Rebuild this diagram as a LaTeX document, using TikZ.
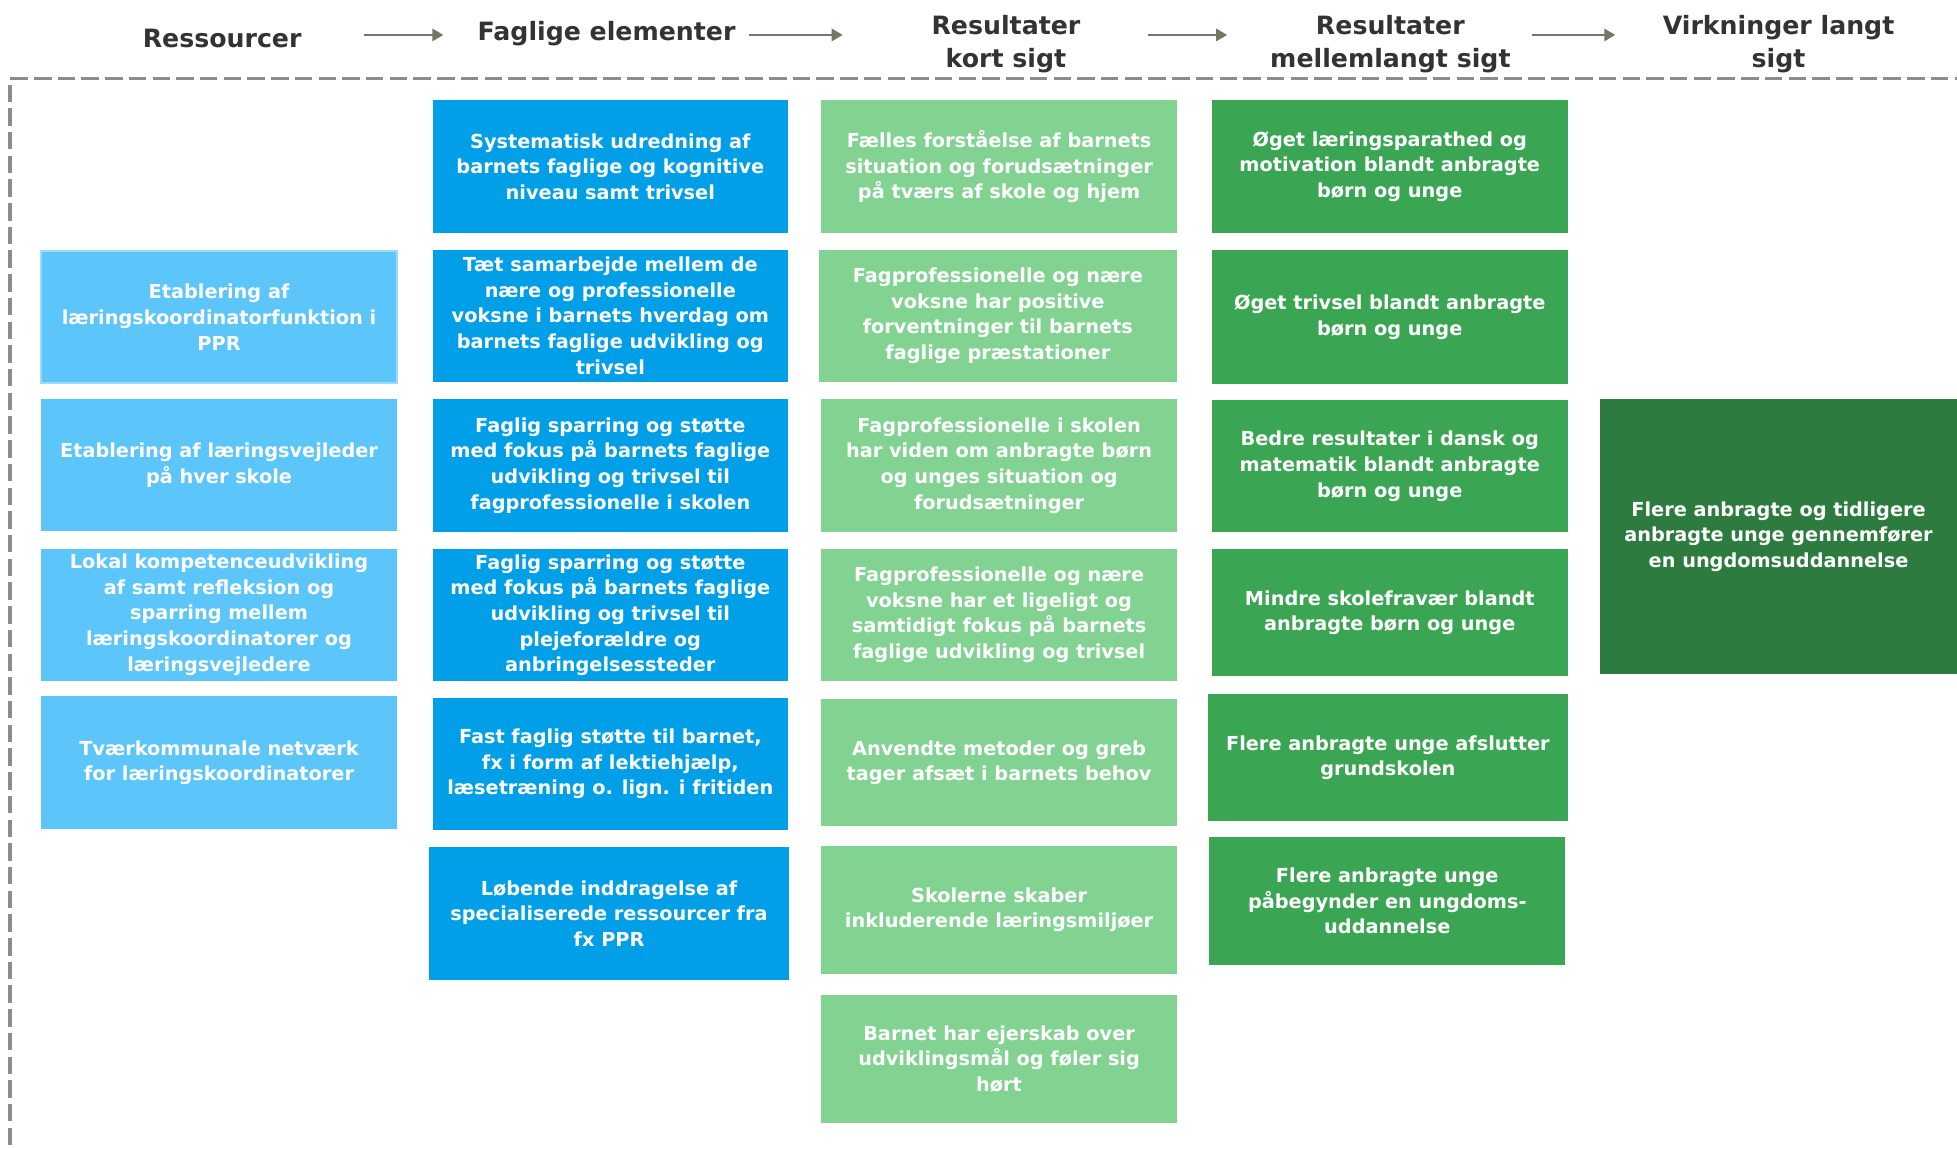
\documentclass[tikz,border=0pt]{standalone}
\usepackage{fontspec}
\setmainfont{DejaVu Sans}
\usetikzlibrary{arrows.meta}
\definecolor{resblue}{RGB}{92,197,250}
\definecolor{resline}{RGB}{160,218,250}
\definecolor{fagblue}{RGB}{0,159,232}
\definecolor{kortgreen}{RGB}{130,210,146}
\definecolor{mellemgreen}{RGB}{58,166,83}
\definecolor{langgreen}{RGB}{45,123,62}
\definecolor{headgray}{RGB}{51,51,51}
\definecolor{arrowgray}{RGB}{118,118,104}
\definecolor{framegray}{RGB}{140,140,140}
\begin{document}
\begin{tikzpicture}[x=0.02cm,y=-0.02cm]
		\tikzstyle{box}=[text=white,font=\fontsize{8.8}{11.7}\selectfont\bfseries,align=center,inner sep=0pt,minimum width=5.7cm,minimum height=2.12cm]
		\tikzstyle{res}=[box,fill=resblue]
		\tikzstyle{fag}=[box,fill=fagblue]
		\tikzstyle{kort}=[box,fill=kortgreen]
		\tikzstyle{mellem}=[box,fill=mellemgreen]
		\tikzstyle{head}=[text=headgray,font=\fontsize{11.5}{14.8}\selectfont\bfseries,align=center,inner sep=0pt,minimum width=4.4cm]
		\tikzstyle{arr}=[draw=arrowgray,line width=0.75pt,-{Triangle[length=5pt,width=5.7pt]},shorten <=0.07cm,shorten >=0.41cm]
		\useasboundingbox (0,0) rectangle (1568,920);
		\draw[framegray,line width=1.6pt,dash pattern=on 0.28cm off 0.1cm] (1580,63) -- (8,63) -- (8,930);
		\node[head] (h_1) at (178,31) {Ressourcer};
		\node[head] (h_2) at (486,27) {Faglige elementer};
		\node[head] (h_3) at (806,35.5) {Resultater\\kort sigt};
		\node[head] (h_4) at (1114,35.5) {Resultater\\mellemlangt sigt};
		\node[head] (h_5) at (1425,35.5) {Virkninger langt\\sigt};
		\coordinate (a_y) at (0,28);
		\draw[arr] (h_1.east |- a_y) -- (h_2.west |- a_y);
		\draw[arr] (h_2.east |- a_y) -- (h_3.west |- a_y);
		\draw[arr] (h_3.east |- a_y) -- (h_4.west |- a_y);
		\draw[arr] (h_4.east |- a_y) -- (h_5.west |- a_y);
		\node[res,draw=resline,line width=1pt] (r_1) at (175.5,254) {Etablering af\\læringskoordinatorfunktion i\\PPR};
		\node[res] (r_2) at (175.5,372.5) {Etablering af læringsvejleder\\på hver skole};
		\node[res] (r_3) at (175.5,492.5) {Lokal kompetenceudvikling\\af samt refleksion og\\sparring mellem\\læringskoordinatorer og\\læringsvejledere};
		\node[res] (r_4) at (175.5,611) {Tværkommunale netværk\\for læringskoordinatorer};
		\node[fag] (f_1) at (489,133.5) {Systematisk udredning af\\barnets faglige og kognitive\\niveau samt trivsel};
		\node[fag] (f_2) at (489,253) {Tæt samarbejde mellem de\\nære og professionelle\\voksne i barnets hverdag om\\barnets faglige udvikling og\\trivsel};
		\node[fag] (f_3) at (489,373) {Faglig sparring og støtte\\med fokus på barnets faglige\\udvikling og trivsel til\\fagprofessionelle i skolen};
		\node[fag] (f_4) at (489,493) {Faglig sparring og støtte\\med fokus på barnets faglige\\udvikling og trivsel til\\plejeforældre og\\anbringelsessteder};
		\node[fag] (f_5) at (489,612) {Fast faglig støtte til barnet,\\fx i form af lektiehjælp,\\læsetræning o. lign. i fritiden};
		\node[fag,minimum width=5.76cm] (f_6) at (488,732) {Løbende inddragelse af\\specialiserede ressourcer fra\\fx PPR};
		\node[kort] (k_1) at (800.5,133.5) {Fælles forståelse af barnets\\situation og forudsætninger\\på tværs af skole og hjem};
		\node[kort,minimum width=5.74cm] (k_2) at (799.5,253) {Fagprofessionelle og nære\\voksne har positive\\forventninger til barnets\\faglige præstationer};
		\node[kort] (k_3) at (800.5,373) {Fagprofessionelle i skolen\\har viden om anbragte børn\\og unges situation og\\forudsætninger};
		\node[kort] (k_4) at (800.5,492.5) {Fagprofessionelle og nære\\voksne har et ligeligt og\\samtidigt fokus på barnets\\faglige udvikling og trivsel};
		\node[kort,minimum height=2.04cm] (k_5) at (800.5,611) {Anvendte metoder og greb\\tager afsæt i barnets behov};
		\node[kort,minimum height=2.04cm] (k_6) at (800.5,729) {Skolerne skaber\\inkluderende læringsmiljøer};
		\node[kort,minimum height=2.06cm] (k_7) at (800.5,848.5) {Barnet har ejerskab over\\udviklingsmål og føler sig\\hørt};
		\node[mellem] (m_1) at (1113.5,133.5) {Øget læringsparathed og\\motivation blandt anbragte\\børn og unge};
		\node[mellem,minimum height=2.16cm] (m_2) at (1113.5,254) {Øget trivsel blandt anbragte\\børn og unge};
		\node[mellem] (m_3) at (1113.5,373.5) {Bedre resultater i dansk og\\matematik blandt anbragte\\børn og unge};
		\node[mellem,minimum height=2.04cm] (m_4) at (1113.5,491) {Mindre skolefravær blandt\\anbragte børn og unge};
		\node[mellem,minimum width=5.76cm,minimum height=2.04cm] (m_5) at (1112,607) {Flere anbragte unge afslutter\\grundskolen};
		\node[mellem,minimum width=5.7cm,minimum height=2.04cm] (m_6) at (1111.5,722) {Flere anbragte unge\\påbegynder en ungdoms-\\uddannelse};
		\node[box,fill=langgreen,minimum width=5.72cm,minimum height=4.4cm] (v_1) at (1425,430) {Flere anbragte og tidligere\\anbragte unge gennemfører\\en ungdomsuddannelse};
	\end{tikzpicture}
\end{document}
